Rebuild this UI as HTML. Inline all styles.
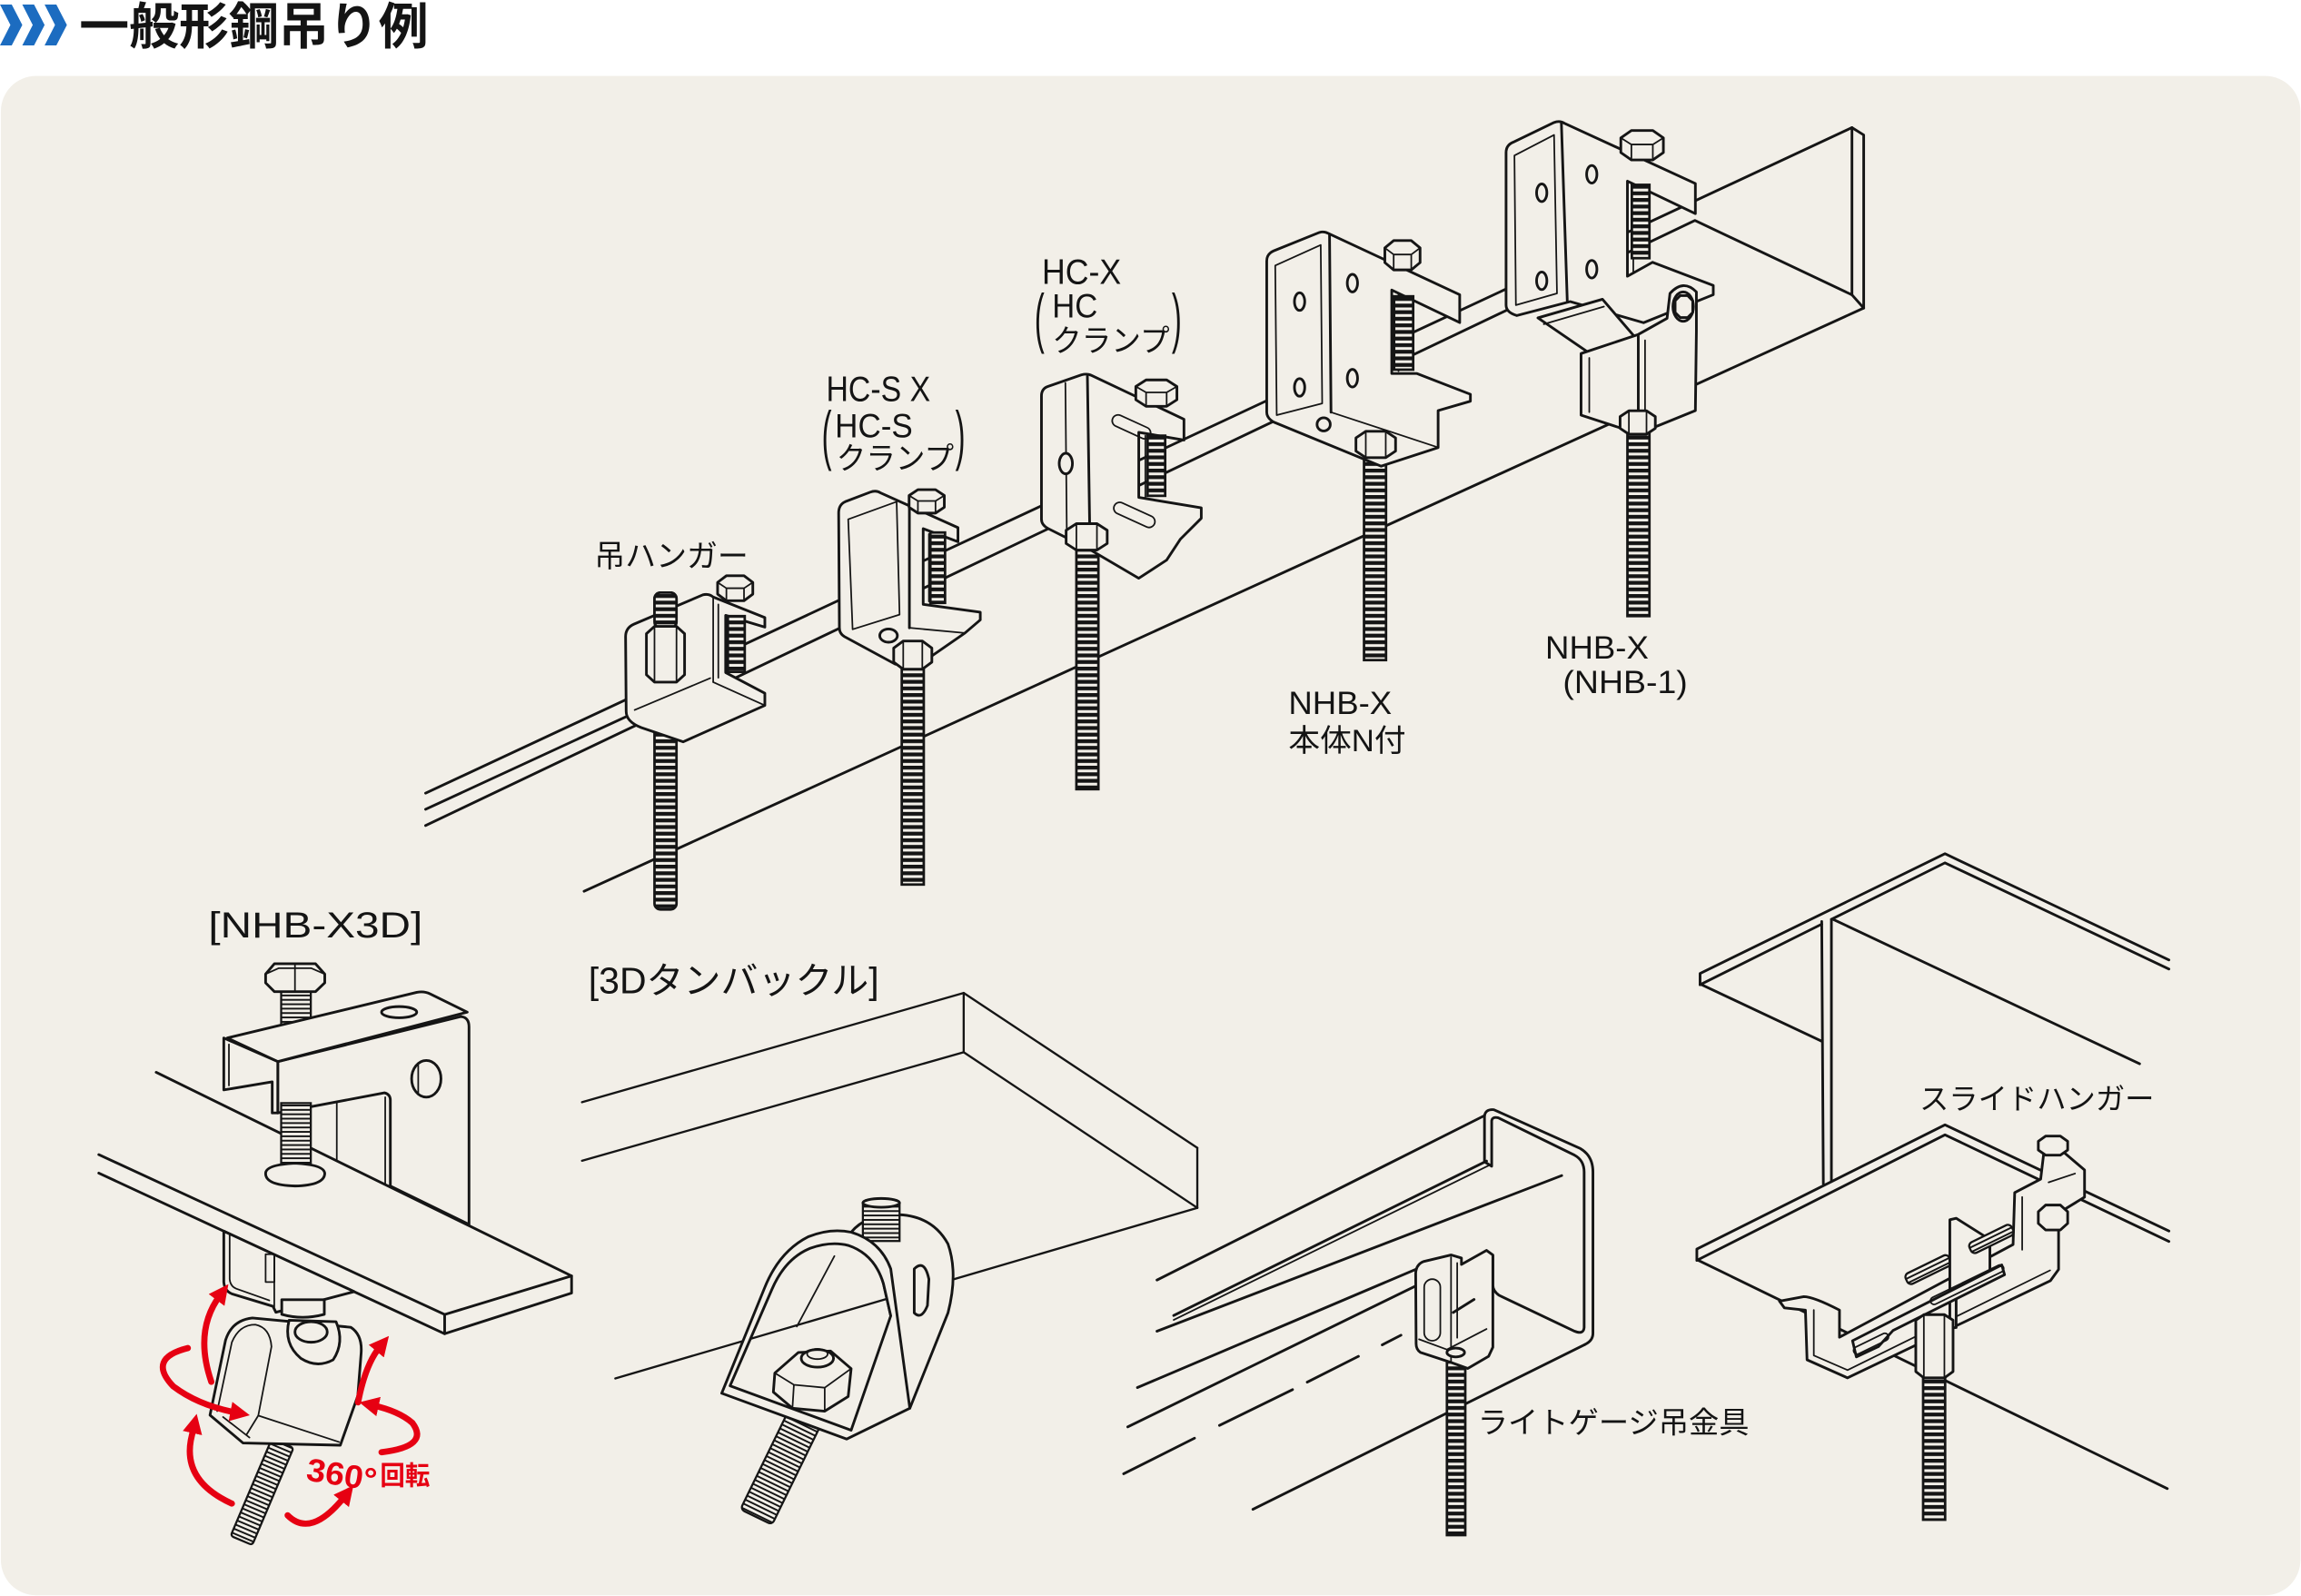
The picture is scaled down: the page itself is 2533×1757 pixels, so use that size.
<!DOCTYPE html>
<html><head><meta charset="utf-8"><title>一般形鋼吊り例</title><style>
html,body{margin:0;padding:0;background:#fff;}
svg{display:block;}
.s{stroke:#151515;stroke-width:1.8;fill:none;stroke-linejoin:round;stroke-linecap:round}
.sl{stroke:#151515;stroke-width:1.45;fill:none;stroke-linecap:round}
.f{stroke:#151515;stroke-width:1.8;fill:#f2efe8;stroke-linejoin:round}
.t{stroke:#151515;stroke-width:1.1;fill:none;stroke-linecap:round;stroke-linejoin:round}
.r{fill:url(#thr);stroke:#151515;stroke-width:1.7}
.r2{fill:url(#thr2);stroke:#151515;stroke-width:1.4}
.lbl{font-family:"Liberation Sans","Noto Sans CJK JP",sans-serif;fill:#141414;}
.ar{stroke:#e60012;stroke-width:4.2;fill:none;stroke-linecap:round}
</style></head><body>
<svg width="2533" height="1757" viewBox="0 0 1568 1088" preserveAspectRatio="none" xmlns="http://www.w3.org/2000/svg">
<defs>
<pattern id="thr" width="40" height="4.5" patternUnits="userSpaceOnUse"><rect width="40" height="4.5" fill="#f2efe8"/><rect width="40" height="2.6" fill="#151515"/></pattern>
<pattern id="thr2" width="40" height="3" patternUnits="userSpaceOnUse"><rect width="40" height="3" fill="#f2efe8"/><rect width="40" height="1.2" fill="#151515"/></pattern>
<marker id="ah" viewBox="0 0 10 10" refX="3" refY="5" markerWidth="3.2" markerHeight="3.2" orient="auto"><path d="M0,0 L10,5 L0,10 Z" fill="#e60012"/></marker>
</defs>

<!-- header -->
<rect x="0" y="0" width="1568" height="1088" fill="#ffffff"/>
<g fill="#1c6cc0">
<polygon points="0,3.1 8,3.1 15.2,17 8,31 0,31 7.1,17"/>
<polygon points="15.2,3.1 23.2,3.1 30.4,17 23.2,31 15.2,31 22.3,17"/>
<polygon points="30.4,3.1 38.4,3.1 45.6,17 38.4,31 30.4,31 37.5,17"/>
</g>
<text class="lbl" x="54" y="30" font-size="34" font-weight="bold" textLength="238" lengthAdjust="spacingAndGlyphs">一般形鋼吊り例</text>

<!-- panel -->
<rect x="0.6" y="51.8" width="1567" height="1035.7" rx="24" ry="24" fill="#f2efe8"/>

<!-- ================= TOP BEAM ================= -->
<line class="s" x1="290" y1="540.7" x2="1262" y2="87"/>
<line class="s" x1="290" y1="551.7" x2="440" y2="482.4"/>
<polyline class="s" points="290,562.8 1155,150.3 1262,201 1270,210"/>
<line class="s" x1="398" y1="607.6" x2="1270" y2="210"/>
<polyline class="s" points="1262,87 1270,92 1270,210"/>
<line class="s" x1="1262" y1="87" x2="1262" y2="201"/>

<!-- 吊ハンガー -->
<rect class="r" x="446" y="404" width="15" height="216" rx="4"/>
<path class="f" d="M426.3,434 Q426.3,428 432,425.5 L479,405.5 Q483,404.5 486,407 L521.2,421 L521.2,427.5 L494.5,419.5 L494.5,458.5 L521.2,472.6 L521.2,480.9 L465.5,505.7 L437,496 Q426.7,492 426.7,485 Z"/>
<line class="t" x1="486" y1="407.5" x2="486" y2="465"/>
<line class="t" x1="489.5" y1="412" x2="489.5" y2="462"/>
<line class="t" x1="486" y1="465" x2="521.2" y2="480.9"/>
<line class="t" x1="432.5" y1="484" x2="484" y2="462.3"/>
<rect class="r" x="496" y="420" width="11.5" height="38"/>
<polygon class="f" points="489,397 495,392.5 507,392.5 513,397 513,405 507,409.5 495,409.5 489,405"/>
<path class="t" d="M489,397 L495,401 L507,401 L513,397 M495,401 L495,409.5 M507,401 L507,409.5"/>
<rect class="r" x="446" y="404" width="15" height="24" rx="4"/>
<path class="f" d="M440.5,432 L446,427 L461,427 L466.5,432 L466.5,460 L461,465 L446,465 L440.5,460 Z"/>
<line class="t" x1="446" y1="427" x2="446" y2="465"/><line class="t" x1="461" y1="427" x2="461" y2="465"/>

<!-- HC-SX -->
<rect class="r" x="614.5" y="448" width="15" height="155"/>
<path class="f" d="M571.5,350 Q571.4,344 576,342 L593,335.5 Q597,334 600,336 L652.8,359.7 L652.8,369.3 L629.1,360.4 L629.1,412 L668,417.3 L668,422.6 L657.6,431.5 L626.8,452.8 L610.2,452.8 L575.5,434 Q572,432 572,428 Z"/>
<path class="t" d="M578,354 L611,342 L613,419 L581,429 Z"/>
<line class="s" x1="619.7" y1="343" x2="619.7" y2="428"/>
<line class="t" x1="619.7" y1="428" x2="657.6" y2="431.5"/>
<line class="t" x1="633" y1="364" x2="633" y2="410"/>
<ellipse class="f" cx="605.5" cy="433.3" rx="6" ry="4.5"/>
<rect class="r" x="634" y="363" width="10" height="48"/>
<polygon class="f" points="619.5,337.8 625.5,333.8 637.5,333.8 643.5,337.8 643.5,345.8 637.5,349.8 625.5,349.8 619.5,345.8"/>
<path class="t" d="M619.5,337.8 L625.5,341.5 L637.5,341.5 L643.5,337.8 M625.5,341.5 L625.5,349.8 M637.5,341.5 L637.5,349.8"/>
<polygon class="f" points="609,441.8 615.5,437 628.5,437 635,441.8 635,451.4 628.5,456.2 615.5,456.2 609,451.4"/>
<path class="t" d="M615.5,437 L615.5,456 M628.5,437 L628.5,456"/>

<!-- HC-X -->
<rect class="r" x="733.5" y="370" width="15" height="168"/>
<path class="f" d="M709.7,270 Q709.7,265 714,263.5 L737,255.5 Q741,254.5 744,256 L806.8,285.8 L806.8,300 L776,294.7 L776,339.1 L818.6,346.2 L818.6,353.3 L804.4,367.5 L795,381.8 L776,394.2 L742.8,374.7 L714.4,360.4 Q709.7,358 709.7,354 Z"/>
<line class="t" x1="726" y1="261" x2="727" y2="367"/>
<line class="s" x1="741" y1="256.5" x2="742.8" y2="374.7"/>
<line class="t" x1="780.5" y1="297" x2="780.5" y2="340"/>
<ellipse class="f" cx="726.3" cy="316" rx="4.5" ry="7"/>
<rect class="t" x="757" y="287" width="28" height="8" rx="4" transform="rotate(24.5 771 291)"/>
<rect class="t" x="758" y="347" width="30" height="8" rx="4" transform="rotate(24.5 773 351)"/>
<rect class="r" x="782" y="297" width="12" height="41"/>
<polygon class="f" points="774,263.5 781,259 795,259 802,263.5 802,272.5 795,277 781,277 774,272.5"/>
<path class="t" d="M774,263.5 L781,267.5 L795,267.5 L802,263.5 M781,267.5 L781,277 M795,267.5 L795,277"/>
<polygon class="f" points="726.5,361.5 733.5,357 747.5,357 754.5,361.5 754.5,370.5 747.5,375 733.5,375 726.5,370.5"/>
<path class="t" d="M733.5,357 L733.5,375 M747.5,357 L747.5,375"/>

<!-- NHB-X 本体N付 -->
<rect class="r" x="929.5" y="308" width="15" height="142"/>
<path class="f" d="M863.2,178 Q863.2,173 868,171 L899,158.5 Q902,157.5 905,159 L994.7,200.9 L994.7,219.9 L948.4,197.7 L948.4,254.6 L965.4,254.6 L1002,268.8 L1002,273.5 L980,279.9 L980,305.1 L941.1,317.8 L868.1,287.8 Q863.2,285 863.2,281 Z"/>
<path class="t" d="M869,181 L900,167 L901,275 L870,283 Z"/>
<line class="s" x1="906" y1="160" x2="907" y2="281"/>
<line class="t" x1="907" y1="281" x2="980" y2="305"/>
<line class="t" x1="953" y1="200" x2="953" y2="253"/>
<ellipse class="f" cx="885.6" cy="205.6" rx="3.5" ry="6"/>
<ellipse class="f" cx="885.6" cy="264.1" rx="3.5" ry="6"/>
<ellipse class="f" cx="921.6" cy="193" rx="3.5" ry="6"/>
<ellipse class="f" cx="921.6" cy="257.8" rx="3.5" ry="6"/>
<circle class="f" cx="902" cy="289.3" r="4.5"/>
<rect class="r" x="950" y="202" width="13" height="50"/>
<polygon class="f" points="943.7,169 949.7,164 961.7,164 967.7,169 967.7,179 961.7,184 949.7,184 943.7,179"/>
<path class="t" d="M943.7,169 L949.7,173.5 L961.7,173.5 L967.7,169 M949.7,173.5 L949.7,184 M961.7,173.5 L961.7,184"/>
<polygon class="f" points="924,298.5 930.7,294 944.3,294 951,298.5 951,307.5 944.3,312 930.7,312 924,307.5"/>
<path class="t" d="M930.7,294 L930.7,312 M944.3,294 L944.3,312"/>

<!-- NHB-X (NHB-1) -->
<rect class="r" x="1109" y="292" width="15" height="128"/>
<path class="f" d="M1026.3,104 Q1026.3,99 1031,97 L1059,83.5 Q1062.8,82 1066,84 L1155.3,125.1 L1155.3,145.6 L1109,123.5 L1109,188.3 L1126.1,178.8 L1167.5,194.6 L1167.5,200.9 L1120,220 L1070,205.6 L1033.6,215.1 Q1026.3,213 1026.3,208 Z"/>
<path class="t" d="M1032,106 L1059,92 L1061,200 L1033,208 Z"/>
<line class="s" x1="1064" y1="84" x2="1068" y2="205"/>
<line class="t" x1="1113" y1="126" x2="1113" y2="186"/>
<ellipse class="f" cx="1050.6" cy="131.4" rx="3.5" ry="6"/>
<ellipse class="f" cx="1050.6" cy="191.4" rx="3.5" ry="6"/>
<ellipse class="f" cx="1084.7" cy="118.8" rx="3.5" ry="6"/>
<ellipse class="f" cx="1084.7" cy="183.5" rx="3.5" ry="6"/>
<rect class="r" x="1112" y="126" width="12" height="50"/>
<path class="f" d="M1048,216.7 L1092,204 L1116.4,232.5 L1087.1,243.5 Z"/>
<line class="t" x1="1052" y1="221" x2="1093" y2="209"/>
<path class="f" d="M1077.4,241 L1116.4,228 L1136,217 L1138,200 Q1147,190 1156,199 L1156,226 L1155.3,279.9 L1116.4,295.7 L1077.4,283 Z"/>
<line class="t" x1="1083" y1="244" x2="1083" y2="281"/>
<line class="s" x1="1116.4" y1="229" x2="1116.4" y2="295"/>
<line class="t" x1="1121" y1="232" x2="1121" y2="283"/>
<ellipse class="f" cx="1147" cy="209" rx="7" ry="10"/>
<polygon class="f" points="1141.5,205 1145,201.5 1150,201.5 1153.5,205 1153.5,213 1150,216.5 1145,216.5 1141.5,213"/>
<polygon class="f" points="1104.5,94 1111.7,89 1126.3,89 1133.5,94 1133.5,104 1126.3,109 1111.7,109 1104.5,104"/>
<path class="t" d="M1104.5,94 L1111.7,98.5 L1126.3,98.5 L1133.5,94 M1111.7,98.5 L1111.7,109 M1126.3,98.5 L1126.3,109"/>
<polygon class="f" points="1104,284 1110,280 1122,280 1128,284 1128,292 1122,296 1110,296 1104,292"/>
<path class="t" d="M1110,280 L1110,296 M1122,280 L1122,296"/>

<!-- top labels -->
<text class="lbl" x="405" y="386.5" font-size="21" textLength="105" lengthAdjust="spacingAndGlyphs">吊ハンガー</text>
<text class="lbl" x="563" y="273.4" font-size="24" textLength="71" lengthAdjust="spacingAndGlyphs">HC-S X</text>
<text class="lbl" transform="translate(560,311.8) scale(0.45,1)" font-size="45">(</text>
<text class="lbl" x="569" y="298.2" font-size="23" textLength="53" lengthAdjust="spacingAndGlyphs">HC-S</text>
<text class="lbl" x="570" y="319.7" font-size="21" textLength="80" lengthAdjust="spacingAndGlyphs">クランプ</text>
<text class="lbl" transform="translate(651,311.8) scale(0.45,1)" font-size="45">)</text>
<text class="lbl" x="710" y="193.4" font-size="24" textLength="54" lengthAdjust="spacingAndGlyphs">HC-X</text>
<text class="lbl" transform="translate(705,231.9) scale(0.45,1)" font-size="45">(</text>
<text class="lbl" x="717" y="216.5" font-size="23" textLength="31" lengthAdjust="spacingAndGlyphs">HC</text>
<text class="lbl" x="717" y="239.8" font-size="21" textLength="80" lengthAdjust="spacingAndGlyphs">クランプ</text>
<text class="lbl" transform="translate(798.5,231.9) scale(0.45,1)" font-size="45">)</text>
<text class="lbl" x="878" y="486.8" font-size="22" textLength="70.5" lengthAdjust="spacingAndGlyphs">NHB-X</text>
<text class="lbl" x="878" y="512" font-size="21" textLength="80" lengthAdjust="spacingAndGlyphs">本体N付</text>
<text class="lbl" x="1053" y="448.9" font-size="22" textLength="70.5" lengthAdjust="spacingAndGlyphs">NHB-X</text>
<text class="lbl" x="1065" y="472.5" font-size="22" textLength="85" lengthAdjust="spacingAndGlyphs">(NHB-1)</text>

<!-- ================= NHB-X3D ================= -->
<text class="lbl" x="142" y="639" font-size="24.5" textLength="146" lengthAdjust="spacingAndGlyphs">[NHB-X3D]</text>
<rect class="r2" x="191.6" y="674" width="20.2" height="40"/>
<path class="f" d="M189.3,723.7 L314,693 Q319.6,693.5 319.6,700 L319.6,834.7 L266,808.5 L266,750 Q266,746 262,745 L189.3,758.7 Z"/>
<line class="t" x1="229.5" y1="751" x2="229.5" y2="791"/>
<line class="t" x1="262.5" y1="748" x2="262.5" y2="807"/>
<ellipse class="f" cx="290.5" cy="735.4" rx="10" ry="12.5"/>
<line class="t" x1="285" y1="725" x2="285" y2="746"/>
<path class="f" d="M154.9,707.6 L284,676.5 Q289,675.5 293,677.5 L318.4,690 L189.3,723.7 Z"/>
<ellipse class="f" cx="272" cy="690" rx="12" ry="3.8"/>
<path class="f" d="M152.5,707.6 L189.3,723.7 L189.3,758.7 L185.5,758.7 L185.5,737.5 L152.5,743 Z"/>
<line class="t" x1="156" y1="712" x2="156" y2="740"/>
<!-- flat bar -->
<polygon points="106.4,731 389.5,869.8 389.5,881.5 303,909.2 67.3,799.7 67.3,787.1" fill="#f2efe8"/>
<line class="s" x1="106.4" y1="731" x2="389.5" y2="869.8"/>
<polyline class="s" points="67.3,787.1 303,896.1 389.5,869.8 389.5,881.5 303,909.2 67.3,799.7"/>
<line class="s" x1="303" y1="896.1" x2="303" y2="909.2"/>
<!-- bolt lower -->
<rect class="r2" x="191.6" y="752" width="20.2" height="43"/>
<path class="f" d="M181,800 Q181,794 201,793 Q221,794 221.3,800 Q221,808 201,808.5 Q181,808 181,800 Z"/>
<path class="f" d="M181,664 L187,657 L215,657 L221.3,664 L221.3,670 L215,676 L187,676 L181,670 Z"/>
<path class="t" d="M181,664 L190,660 L212,660 L221.3,664 M201,657 L201,676"/>
<!-- lower jaw -->
<path class="f" d="M152.5,839.3 L152.5,874 Q153,880 158,882 L186,890.5 L188,894.6 L241.4,880.5 Z"/>
<path class="t" d="M156.5,842 L156.5,872 Q157,877 161,878.5 L183.5,886.5"/>
<line class="t" x1="186.9" y1="856" x2="186.9" y2="891"/>
<rect class="t" x="181" y="855" width="6" height="19"/>
<!-- tilted rod -->
<g transform="translate(178.6,1017) rotate(23)"><rect class="r2" x="-8" y="-36" width="16" height="72" rx="2"/></g>
<!-- swivel -->
<path class="f" d="M192,886 L221,886 L221,896 Q206,900 192,896 Z"/>
<path class="f" d="M153.7,913.6 Q158,900 172,898.5 L239,904.8 Q247,910 246.1,922.4 L243.8,951.6 L231.9,985.2 L165.6,983.7 L143.1,964.7 Z"/>
<path class="f" d="M197,900 Q193,916 205,926 Q216,933 227,927 Q235,915 229,901 Z"/>
<ellipse class="f" cx="212" cy="908" rx="11" ry="7"/>
<path class="t" d="M148,962 L158,915 Q163,903 174,903 Q184,905 185,918 L176,965 L168,978 M152,966 L170,980"/>
<line class="t" x1="176" y1="965" x2="231" y2="983"/>
<!-- red arrows -->
<path class="ar" marker-end="url(#ah)" d="M144,942 Q132,907 150,883"/>
<path class="ar" marker-end="url(#ah)" d="M128,919 Q100,926 118,945 Q135,958 161,963"/>
<path class="ar" marker-end="url(#ah)" d="M158,1025 Q125,1010 130,982 L132,973"/>
<path class="ar" marker-end="url(#ah)" d="M244,956 Q249,930 259,918"/>
<path class="ar" marker-end="url(#ah)" d="M260,990 Q293,986 281,970 Q272,962 254,958"/>
<path class="ar" marker-end="url(#ah)" d="M196,1033 Q212,1049 235,1020"/>
<text class="lbl" transform="translate(208,1009) rotate(9)" font-size="22" font-weight="bold" style="fill:#e60012" textLength="48" lengthAdjust="spacingAndGlyphs">360°</text>
<text class="lbl" x="259" y="1012" font-size="18" font-weight="bold" style="fill:#e60012" textLength="34" lengthAdjust="spacingAndGlyphs">回転</text>

<!-- ================= 3D turnbuckle ================= -->
<text class="lbl" x="401" y="677" font-size="25" textLength="198" lengthAdjust="spacingAndGlyphs">[3Dタンバックル]</text>
<line class="sl" x1="396.6" y1="751.4" x2="656.7" y2="676.9"/>
<line class="sl" x1="396.6" y1="791.3" x2="656.7" y2="717.3"/>
<line class="sl" x1="656.7" y1="676.9" x2="656.7" y2="717.3"/>
<line class="sl" x1="656.7" y1="676.9" x2="815.9" y2="782.5"/>
<line class="sl" x1="656.7" y1="717.3" x2="815.9" y2="823.4"/>
<line class="sl" x1="815.9" y1="782.5" x2="815.9" y2="823.4"/>
<line class="sl" x1="815.9" y1="823.4" x2="419.3" y2="939.7"/>
<g transform="translate(532,1000) rotate(26)"><rect class="r2" x="-12" y="-38" width="24" height="76" rx="3"/></g>
<path class="f" d="M580,840 Q590,828 610,828 Q635,828 646,848 Q653,868 646,895 L620,960 L607,897 L602,875 Q596,855 580,849 Z"/>
<path class="f" d="M623,865 Q630,858 633,872 L632,890 Q628,900 623,895 Z"/>
<rect class="r2" x="588" y="820" width="25" height="26"/>
<ellipse class="f" cx="600.5" cy="820" rx="12.5" ry="3"/>
<path class="f" fill-rule="evenodd" d="M491.8,949.8 L521,878 Q531,853 551,843 Q566,837 580,840 Q600,846 607,865 L620,960 L577,981 Z M497.5,944.7 L526,879 Q535,858 552,851 Q566,846 578,849 Q596,855 602,875 L607,897 L580,975 Z"/>
<line class="t" x1="568.6" y1="856.3" x2="543" y2="904.3"/>
<path class="f" d="M528,936 L544,922 L566,921 L580,933 L578,952 L562,962 L540,960 L527,949 Z"/>
<path class="t" d="M528,936 L541,944 L562,946 L580,933 M541,944 L540,960 M562,946 L562,962"/>
<ellipse class="f" cx="557" cy="926" rx="11" ry="6"/>
<ellipse class="t" cx="557" cy="923" rx="7" ry="3.5"/>

<!-- ================= Light gauge ================= -->
<line class="s" x1="788.4" y1="872.6" x2="1011.6" y2="760.5"/>
<line class="s" x1="799.8" y1="896.8" x2="1013" y2="791.5"/>
<line class="t" x1="799.8" y1="899.8" x2="1014.5" y2="794.5"/>
<line class="s" x1="788.4" y1="907.5" x2="1064.2" y2="801.4"/>
<line class="s" x1="775.1" y1="945.9" x2="966" y2="864.8"/>
<line class="s" x1="768.5" y1="972.7" x2="966" y2="876"/>
<line class="s" x1="765.7" y1="1004.7" x2="814" y2="980.4"/>
<line class="s" x1="831" y1="971.7" x2="880.8" y2="947.3"/>
<line class="s" x1="890.8" y1="942.2" x2="925.7" y2="924.6"/>
<line class="s" x1="941.9" y1="916.8" x2="954.7" y2="910.2"/>
<line class="s" x1="853.8" y1="1028.9" x2="1080" y2="916.6"/>
<path class="s" d="M1011.6,792 L1011.6,761 Q1012,756 1018,756.5 L1077,783 Q1085.5,788 1085.5,799 L1085.5,909 Q1085.5,914 1080,916.6"/>
<path class="s" d="M1011.6,792 L1016.5,795 L1016.5,764 Q1017,761 1021,762 L1073,787.5 Q1079.5,791 1079.5,799 L1079.5,905 Q1079,910 1073,907.5 L1021.5,883 Q1017.3,880 1017.3,876 L1017.3,856"/>
<rect class="r" x="986" y="921" width="12.5" height="125.5"/>
<path class="f" d="M964.7,868 Q965,862 970,860 L988.8,855.5 L995.9,857.6 L995.9,862 L1013,852.4 L1017.3,855.5 L1017.3,918.4 L1014.4,924.6 L1000.2,932.9 L988.8,928.8 L968,922 Q965,920 965,916 Z"/>
<line class="t" x1="988.8" y1="857" x2="988.8" y2="928"/>
<line class="t" x1="993" y1="861" x2="993" y2="912"/>
<rect class="t" x="970.5" y="872" width="11" height="42" rx="5.5"/>
<path class="t" d="M967,913 L986,920 L1013,906"/>
<line class="s" x1="990.3" y1="894.7" x2="1004.5" y2="885.8"/>
<ellipse class="f" cx="992" cy="922" rx="6" ry="3"/>
<text class="lbl" x="1007" y="977" font-size="20.5" textLength="185" lengthAdjust="spacingAndGlyphs">ライトゲージ吊金具</text>

<!-- ================= Slide hanger ================= -->
<polyline class="s" points="1158.5,671.3 1158.5,663.6 1325.4,582 1478,654.4"/>
<line class="s" x1="1158.5" y1="671.3" x2="1241.4" y2="630"/>
<polyline class="s" points="1248,626.7 1325.4,588.2 1478,660.6"/>
<line class="s" x1="1159.6" y1="671.3" x2="1241.4" y2="709.8"/>
<line class="s" x1="1241.4" y1="628.2" x2="1242.5" y2="806.9"/>
<line class="s" x1="1248" y1="626.7" x2="1248" y2="805.3"/>
<line class="s" x1="1249.1" y1="626.7" x2="1458" y2="725.2"/>
<polyline class="s" points="1156.3,859.2 1156.3,851.5 1325.4,766.8 1478,839.2"/>
<polyline class="s" points="1156.3,859.2 1325.4,773.6 1478,846.3"/>
<line class="s" x1="1157.4" y1="859.2" x2="1476.9" y2="1014.8"/>
<rect class="r" x="1310.5" y="939" width="15" height="97"/>
<path class="f" d="M1212.6,887 L1229.2,883.9 Q1236,884 1253.5,893.1 L1253.5,911.6 L1371.8,848.4 L1372.9,813 L1390.6,803.8 L1392.8,785.3 L1406.1,785.3 L1420.5,797.6 L1420.5,816.1 L1402.8,826.9 L1402.8,865.4 L1397.2,873.1 L1259,939.3 L1231.4,927 L1230.3,893.1 L1216,891.6 Z"/>
<path class="t" d="M1236,893 L1236,924 L1259,934 L1397,866 M1378,816 L1378,852 M1396,806 L1414,800"/>
<g transform="rotate(-26 1314 865.5)"><rect class="r2" x="1297.5" y="861.5" width="33" height="8" rx="3"/></g>
<path class="f" d="M1328.7,831.5 L1333,830.5 L1356,845 L1356,868 L1333,880 L1333,905 L1328.7,905.4 Z"/>
<g transform="rotate(-26 1357 844.6)"><rect class="r2" x="1341" y="840.6" width="32" height="8" rx="3"/></g>
<path class="f" d="M1262.4,914 L1364.1,862.3 L1366,869 L1290,907 L1280,918 L1265,925 Z"/>
<rect class="t" x="1262" y="913.5" width="26" height="5" rx="2.5" transform="rotate(-26 1275 916)"/>
<rect class="t" x="1313" y="873.5" width="55" height="5" rx="2.5" transform="rotate(-26 1340 876)"/>
<polygon class="f" points="1389,826 1394,821.5 1404,821.5 1409,826 1409,834 1404,838.5 1394,838.5 1389,834"/>
<polygon class="f" points="1389,778 1394,774.5 1404,774.5 1409,778 1409,784 1404,787.5 1394,787.5 1389,784"/>
<path class="f" d="M1305.5,900 L1311,896.2 L1325,896.2 L1330.9,900 L1330.9,935 L1325,939.3 L1311,939.3 L1305.5,935 Z"/>
<line class="t" x1="1311" y1="896.2" x2="1311" y2="939.3"/><line class="t" x1="1325" y1="896.2" x2="1325" y2="939.3"/>
<text class="lbl" x="1308" y="756" font-size="20" textLength="160" lengthAdjust="spacingAndGlyphs">スライドハンガー</text>
</svg>
</body></html>
